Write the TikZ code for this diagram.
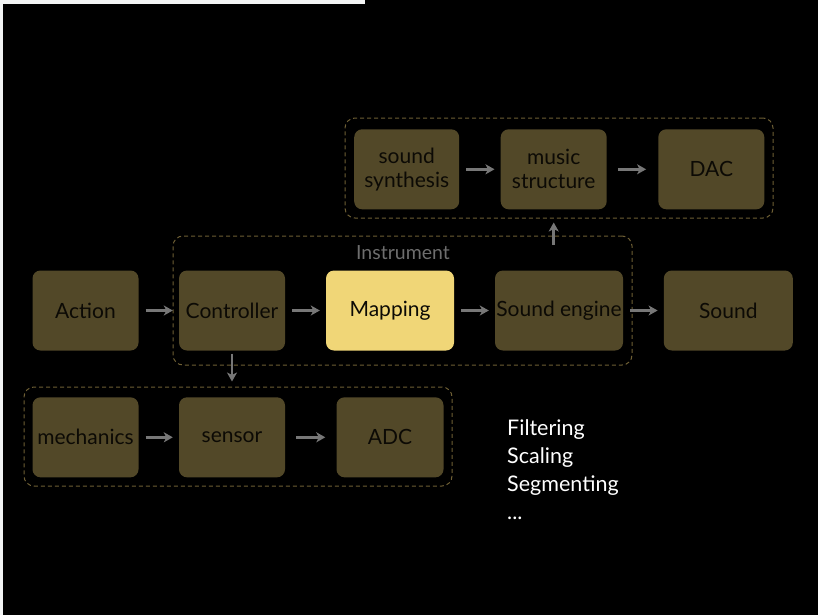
\documentclass[tikz,border=0pt]{standalone}
\usepackage{fontspec}
\setmainfont{Lato}
\usetikzlibrary{arrows.meta,calc}
\definecolor{bgl}{HTML}{F3F5F5}
\definecolor{boxfill}{HTML}{524828}
\definecolor{mapfill}{HTML}{F0D677}
\definecolor{boxtext}{HTML}{0C0A05}
\definecolor{dashc}{HTML}{6E5F34}
\definecolor{arrc}{HTML}{777777}
\definecolor{labc}{HTML}{6E6E6E}
\tikzset{
  blk/.style={draw=none, fill=boxfill, rounded corners=8pt, inner sep=0pt,
    minimum width=106pt, minimum height=80pt, text=boxtext, align=center,
    font=\fontsize{21}{24}\selectfont},
  hilite/.style={blk, fill=mapfill},
  grp/.style={draw=dashc, dash pattern=on 4pt off 3pt, line width=1pt,
    rounded corners=10pt, inner sep=0pt},
  arr/.style={draw=arrc, line width=2.6pt, -{Stealth[length=9pt,width=10pt,inset=2.5pt]}},
  plain/.style={text=white, inner sep=0pt, font=\fontsize{21.5}{24}\selectfont}
}
\begin{document}
\begin{tikzpicture}[x=1pt,y=-1pt]
\useasboundingbox (0,0) rectangle (818,615);
\fill[bgl] (0,0) rectangle (818,615);
\fill[black] (3,4) rectangle (818,615);
\fill[black] (365,0) rectangle (818,4);
% groups
\node[grp, minimum width=459pt, minimum height=129pt] (instr) at (402.5,300.5) {};
\node[grp, minimum width=428pt, minimum height=100pt] (topg) at (559,168) {};
\node[grp, minimum width=428pt, minimum height=99pt] (botg) at (238,436.5) {};
\node[text=labc, font=\fontsize{19.5}{22}\selectfont, inner sep=0pt] (instrlab) at (403,253) {Instrument};
% main row
\node[blk] (action) at (85.5,310.5) {Action};
\node[blk] (ctrl) at (232,310.5) {Controller};
\node[hilite, minimum width=128pt] (map) at (390,310.5) {Mapping};
\node[blk, minimum width=128pt] (se) at (559,310.5) {Sound engine};
\node[blk, minimum width=129pt] (sound) at (728.3,310.5) {Sound};
% top row
\node[blk, minimum width=105pt] (synth) at (406.7,169.3) {sound\\synthesis};
\node[blk] (music) at (553.7,169.3) {music\\structure};
\node[blk] (dac) at (711.3,169.3) {DAC};
% bottom row
\node[blk] (mech) at (85.5,437.3) {mechanics};
\node[blk] (sensor) at (232,437.3) {sensor};
\node[blk, minimum width=107pt] (adc) at (390,437.3) {ADC};
% arrows
\draw[arr, shorten <=7pt, shorten >=6pt] (action) -- (ctrl);
\draw[arr, shorten <=7pt, shorten >=6pt] (ctrl) -- (map);
\draw[arr, shorten <=7pt, shorten >=6pt] (map) -- (se);
\draw[arr, shorten <=7pt, shorten >=6pt] (se) -- (sound);
\draw[arr, shorten <=7pt, shorten >=6pt] (synth) -- (music);
\draw[arr, shorten <=11pt, shorten >=12pt] (music) -- (dac);
\draw[arr, shorten <=7pt, shorten >=6pt] (mech) -- (sensor);
\draw[arr, shorten <=11pt, shorten >=11pt] (sensor) -- (adc);
\draw[arr, shorten <=3pt, shorten >=5pt] (ctrl.south) -- (ctrl.south |- botg.north);
\draw[arr, shorten <=-9pt, shorten >=4pt] (music.south |- instr.north) -- (music.south |- topg.south);
% side text
\node[plain, anchor=base west] (t1) at (507,435) {Filtering};
\node[plain, anchor=base west] (t2) at (507,463) {Scaling};
\node[plain, anchor=base west] (t3) at (507,491) {Segmenting};
\node[plain, anchor=base west] (t4) at (507,519) {...};
\end{tikzpicture}
\end{document}
